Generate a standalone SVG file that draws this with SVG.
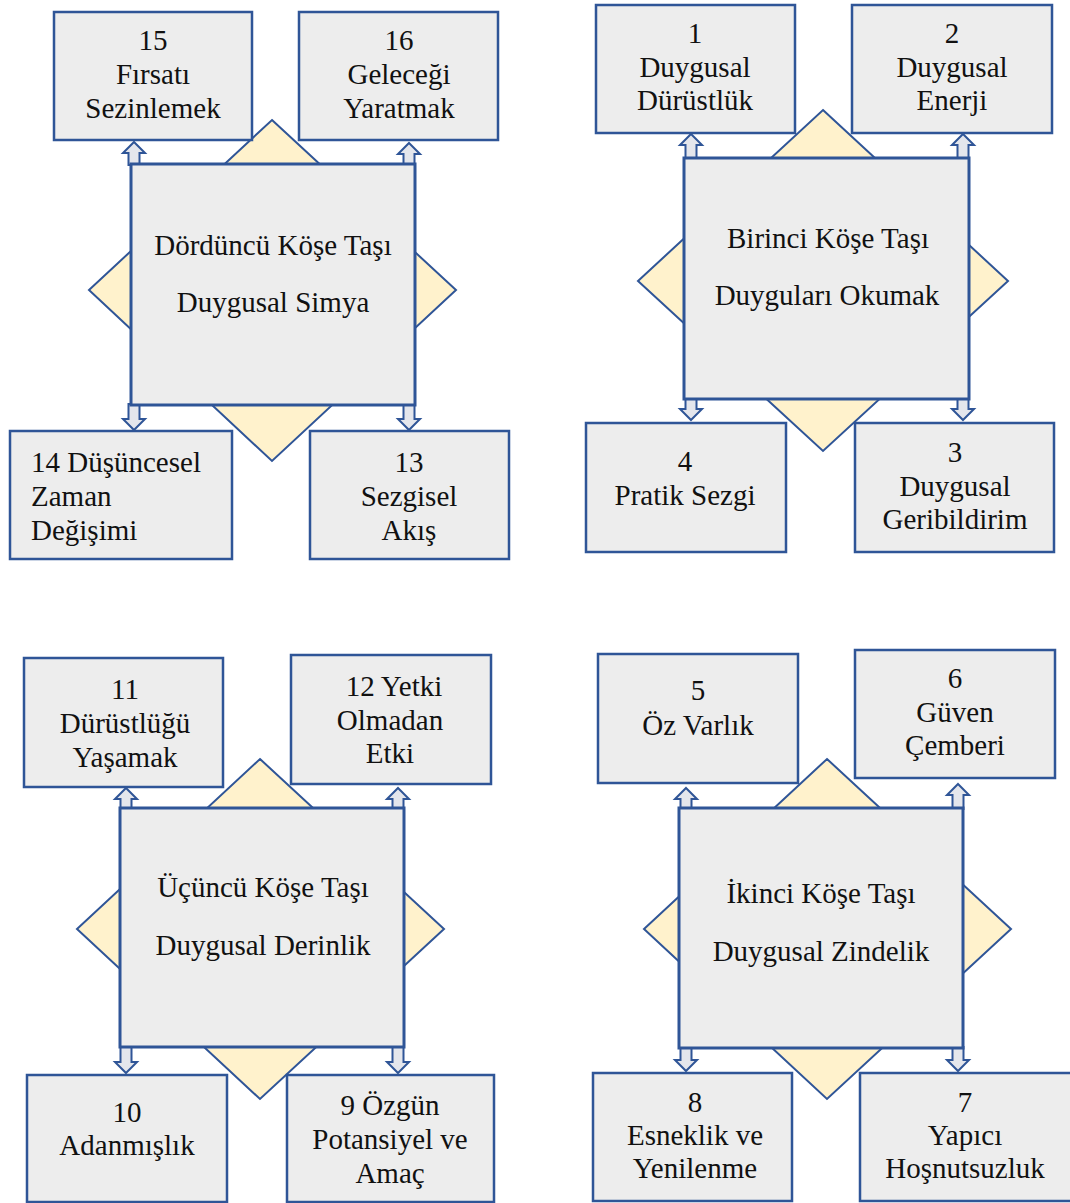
<svg xmlns="http://www.w3.org/2000/svg" width="1070" height="1203" viewBox="0 0 1070 1203">
<style>
  .dia { fill: #FFF2CC; stroke: #2F5597; stroke-width: 2; }
  .core { fill: #EDEDED; stroke: #2F5597; stroke-width: 3; }
  .box { fill: #EDEDED; stroke: #2F5597; stroke-width: 2.5; }
  .arr { fill: #E4E6EC; stroke: #2F5597; stroke-width: 2; stroke-linejoin: miter; }
  text { font-family: "Liberation Serif", "Times New Roman", serif; font-size: 29px; fill: #111; }
  .c { text-anchor: middle; }
</style>
<rect width="1070" height="1203" fill="#FFFFFF"/>

<!-- Diamonds (background) -->
<g id="diamonds">
  <polygon class="dia" points="272,120 456,290 272,461 89,290"/>
  <polygon class="dia" points="823,110 1008,281 823,451 638,281"/>
  <polygon class="dia" points="260,759 444,929 260,1099 77,929"/>
  <polygon class="dia" points="827,759 1011,929 827,1099 644,929"/>
</g>

<!-- Connectors: block arrows -->
<g id="connectors">
  <!-- TL quadrant -->
  <path class="arr" d="M134,142 L145,153 L139.5,153 L139.5,165 L128.5,165 L128.5,153 L123,153 Z"/>
  <path class="arr" d="M409,143 L420,154 L414.5,154 L414.5,165 L403.5,165 L403.5,154 L398,154 Z"/>
  <path class="arr" d="M134,430 L145,419 L139.5,419 L139.5,404 L128.5,404 L128.5,419 L123,419 Z"/>
  <path class="arr" d="M409,430 L420,419 L414.5,419 L414.5,404 L403.5,404 L403.5,419 L398,419 Z"/>
  <!-- TR quadrant -->
  <path class="arr" d="M691,134 L702,145 L696.5,145 L696.5,159 L685.5,159 L685.5,145 L680,145 Z"/>
  <path class="arr" d="M963,134 L974,145 L968.5,145 L968.5,159 L957.5,159 L957.5,145 L952,145 Z"/>
  <path class="arr" d="M691,420 L702,409 L696.5,409 L696.5,398 L685.5,398 L685.5,409 L680,409 Z"/>
  <path class="arr" d="M963,420 L974,409 L968.5,409 L968.5,398 L957.5,398 L957.5,409 L952,409 Z"/>
  <!-- BL quadrant -->
  <path class="arr" d="M126,788 L137,799 L131.5,799 L131.5,809 L120.5,809 L120.5,799 L115,799 Z"/>
  <path class="arr" d="M398,788 L409,799 L403.5,799 L403.5,809 L392.5,809 L392.5,799 L387,799 Z"/>
  <path class="arr" d="M126,1073 L137,1062 L131.5,1062 L131.5,1046 L120.5,1046 L120.5,1062 L115,1062 Z"/>
  <path class="arr" d="M398,1073 L409,1062 L403.5,1062 L403.5,1046 L392.5,1046 L392.5,1062 L387,1062 Z"/>
  <!-- BR quadrant -->
  <path class="arr" d="M686,788 L697,799 L691.5,799 L691.5,809 L680.5,809 L680.5,799 L675,799 Z"/>
  <path class="arr" d="M958,784 L969,795 L963.5,795 L963.5,809 L952.5,809 L952.5,795 L947,795 Z"/>
  <path class="arr" d="M686,1071 L697,1060 L691.5,1060 L691.5,1047 L680.5,1047 L680.5,1060 L675,1060 Z"/>
  <path class="arr" d="M958,1071 L969,1060 L963.5,1060 L963.5,1047 L952.5,1047 L952.5,1060 L947,1060 Z"/>
</g>

<!-- Central squares -->
<g id="core4">
  <rect class="core" x="131" y="164" width="284" height="241"/>
  <text class="c" x="273" y="255">Dördüncü Köşe Taşı</text>
  <text class="c" x="273" y="312">Duygusal Simya</text>
</g>
<g id="core1">
  <rect class="core" x="684" y="158" width="285" height="241"/>
  <text class="c" x="828" y="248">Birinci Köşe Taşı</text>
  <text class="c" x="827" y="305">Duyguları Okumak</text>
</g>
<g id="core3">
  <rect class="core" x="120" y="808" width="284" height="239"/>
  <text class="c" x="263" y="897">Üçüncü Köşe Taşı</text>
  <text class="c" x="263" y="955">Duygusal Derinlik</text>
</g>
<g id="core2">
  <rect class="core" x="679" y="808" width="284" height="240"/>
  <text class="c" x="821" y="903">İkinci Köşe Taşı</text>
  <text class="c" x="821" y="961">Duygusal Zindelik</text>
</g>

<!-- Item boxes -->
<g id="box15">
  <rect class="box" x="54" y="12" width="198" height="128"/>
  <text class="c" x="153" y="50">15</text>
  <text class="c" x="153" y="84">Fırsatı</text>
  <text class="c" x="153" y="118">Sezinlemek</text>
</g>
<g id="box16">
  <rect class="box" x="299" y="12" width="199" height="128"/>
  <text class="c" x="399" y="50">16</text>
  <text class="c" x="399" y="84">Geleceği</text>
  <text class="c" x="399" y="118">Yaratmak</text>
</g>
<g id="box14">
  <rect class="box" x="10" y="431" width="222" height="128"/>
  <text x="31" y="472">14 Düşüncesel</text>
  <text x="31" y="506">Zaman</text>
  <text x="31" y="540">Değişimi</text>
</g>
<g id="box13">
  <rect class="box" x="310" y="431" width="199" height="128"/>
  <text class="c" x="409" y="472">13</text>
  <text class="c" x="409" y="506">Sezgisel</text>
  <text class="c" x="409" y="540">Akış</text>
</g>
<g id="box1">
  <rect class="box" x="596" y="5" width="199" height="128"/>
  <text class="c" x="695" y="43">1</text>
  <text class="c" x="695" y="77">Duygusal</text>
  <text class="c" x="695" y="110">Dürüstlük</text>
</g>
<g id="box2">
  <rect class="box" x="852" y="5" width="200" height="128"/>
  <text class="c" x="952" y="43">2</text>
  <text class="c" x="952" y="77">Duygusal</text>
  <text class="c" x="952" y="110">Enerji</text>
</g>
<g id="box4">
  <rect class="box" x="586" y="423" width="200" height="129"/>
  <text class="c" x="685" y="471">4</text>
  <text class="c" x="685" y="505">Pratik Sezgi</text>
</g>
<g id="box3">
  <rect class="box" x="855" y="423" width="199" height="129"/>
  <text class="c" x="955" y="462">3</text>
  <text class="c" x="955" y="496">Duygusal</text>
  <text class="c" x="955" y="529">Geribildirim</text>
</g>
<g id="box11">
  <rect class="box" x="24" y="658" width="199" height="129"/>
  <text class="c" x="125" y="699">11</text>
  <text class="c" x="125" y="733">Dürüstlüğü</text>
  <text class="c" x="125" y="767">Yaşamak</text>
</g>
<g id="box12">
  <rect class="box" x="291" y="655" width="200" height="129"/>
  <text class="c" x="394" y="696">12 Yetki</text>
  <text class="c" x="390" y="730">Olmadan</text>
  <text class="c" x="390" y="763">Etki</text>
</g>
<g id="box10">
  <rect class="box" x="27" y="1075" width="200" height="127"/>
  <text class="c" x="127" y="1122">10</text>
  <text class="c" x="127" y="1155">Adanmışlık</text>
</g>
<g id="box9">
  <rect class="box" x="287" y="1075" width="207" height="127"/>
  <text class="c" x="390" y="1115">9 Özgün</text>
  <text class="c" x="390" y="1149">Potansiyel ve</text>
  <text class="c" x="390" y="1183">Amaç</text>
</g>
<g id="box5">
  <rect class="box" x="598" y="654" width="200" height="129"/>
  <text class="c" x="698" y="700">5</text>
  <text class="c" x="698" y="735">Öz Varlık</text>
</g>
<g id="box6">
  <rect class="box" x="855" y="650" width="200" height="128"/>
  <text class="c" x="955" y="688">6</text>
  <text class="c" x="955" y="722">Güven</text>
  <text class="c" x="955" y="755">Çemberi</text>
</g>
<g id="box8">
  <rect class="box" x="593" y="1073" width="199" height="128"/>
  <text class="c" x="695" y="1112">8</text>
  <text class="c" x="695" y="1145">Esneklik ve</text>
  <text class="c" x="695" y="1178">Yenilenme</text>
</g>
<g id="box7">
  <rect class="box" x="860" y="1073" width="214" height="128"/>
  <text class="c" x="965" y="1112">7</text>
  <text class="c" x="965" y="1145">Yapıcı</text>
  <text class="c" x="965" y="1178">Hoşnutsuzluk</text>
</g>
</svg>
